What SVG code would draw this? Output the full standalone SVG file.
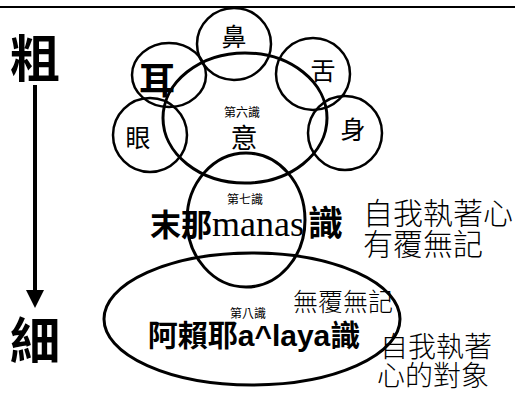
<svg xmlns="http://www.w3.org/2000/svg" width="515" height="394" viewBox="0 0 515 394">
<defs>
<style>
.c{fill:none;stroke:#000;stroke-width:3}
.s{fill:none;stroke:#000;stroke-width:2.5}
.b{font-family:"Noto Sans CJK TC","Noto Sans CJK SC",sans-serif;fill:#000;text-anchor:middle}
.l{font-family:"Noto Sans CJK TC","Noto Sans CJK SC",sans-serif;font-weight:200;fill:#000}
</style>
<marker id="ah" markerWidth="4.5" markerHeight="4.5" refX="0" refY="2.25" orient="auto" markerUnits="strokeWidth">
<path d="M0,0 L4.5,2.25 L0,4.5 Z" fill="#000"/>
</marker>
</defs>
<rect width="515" height="394" fill="#fff"/>
<line x1="0" y1="7" x2="515" y2="7" stroke="#000" stroke-width="2"/>
<g id="connectors">
<line x1="35" y1="85" x2="35" y2="290" stroke="#000" stroke-width="4" marker-end="url(#ah)"/>
</g>
<g id="coarse"><text class="b" x="35" y="77" font-size="50" font-weight="bold">粗</text></g>
<g id="fine"><text class="b" x="35" y="359" font-size="50" font-weight="bold">細</text></g>
<g id="nose"><ellipse class="s" cx="234" cy="44" rx="37" ry="36"/><text class="b" x="234" y="46" font-size="25">鼻</text></g>
<g id="tongue"><ellipse class="s" cx="313" cy="74" rx="37" ry="36"/><text class="b" x="323" y="80" font-size="25">舌</text></g>
<g id="body"><ellipse class="s" cx="345" cy="133" rx="37" ry="37"/><text class="b" x="353" y="139" font-size="25">身</text></g>
<g id="ear"><ellipse class="s" cx="169" cy="75" rx="37" ry="32"/><text class="b" x="157" y="94" font-size="36" font-weight="bold">耳</text></g>
<g id="eye"><ellipse class="s" cx="150" cy="135" rx="37" ry="37"/><text class="b" x="138" y="147" font-size="25">眼</text></g>
<g id="mind"><ellipse class="c" cx="245" cy="118" rx="82" ry="65"/>
<text class="b" x="242" y="117" font-size="12">第六識</text>
<text class="b" x="244" y="148" font-size="27">意</text></g>
<g id="manas"><ellipse class="c" cx="246" cy="220" rx="59" ry="67"/>
<text class="b" x="245" y="204" font-size="12">第七識</text>
<text x="150" y="236" font-size="31" style="font-family:'Noto Sans CJK TC',sans-serif;font-weight:bold">末那<tspan style="font-family:'Liberation Serif',serif;font-weight:normal" font-size="36">manas</tspan><tspan x="308" font-size="35">識</tspan></text></g>
<g id="alaya"><ellipse class="c" cx="252" cy="319" rx="148" ry="66"/>
<text class="b" x="248" y="318" font-size="12">第八識</text>
<text class="b" x="254" y="346" font-size="30" font-weight="bold">阿賴耶<tspan style="font-family:'Liberation Sans',sans-serif">a^laya</tspan>識</text></g>
<text class="l" x="363" y="224" font-size="30">自我執著心</text>
<text class="l" x="363" y="255" font-size="30">有覆無記</text>
<text class="l" x="293" y="311" font-size="25">無覆無記</text>
<text class="l" x="380" y="357" font-size="28">自我執著</text>
<text class="l" x="377" y="386" font-size="28">心的對象</text>
</svg>
